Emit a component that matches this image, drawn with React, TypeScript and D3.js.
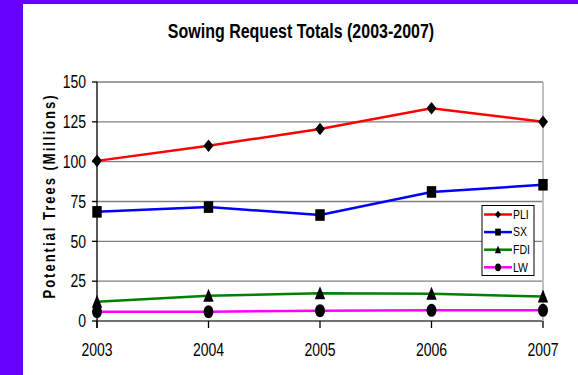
import React from "react";
import * as d3 from "d3";

const years = ["2003", "2004", "2005", "2006", "2007"];
const pli = [100.5, 110, 120.5, 133.5, 125];
const sx = [68.5, 71.5, 66.5, 81, 85.5];
const fdi = [12.1, 15.9, 17.4, 17.1, 15.3];
const lw = [5.8, 5.8, 6.5, 6.7, 6.7];
const yTicks = [0, 25, 50, 75, 100, 125, 150];
const seriesNames = ["PLI", "SX", "FDI", "LW"];
const seriesColors = ["#ff0000", "#0000ff", "#008000", "#ff00ff"];
const seriesMarkers = ["diamond", "square", "triangle", "circle"];

const W = 578, H = 375;
const FONT = "'Liberation Sans', Arial, sans-serif";

function Marker({ type, x, y, s }: { type: string; x: number; y: number; s: number }) {
  const w = 5 * s, h = 6.3 * s;
  if (type === "diamond") {
    return <path d={`M${x},${y - h} L${x + w},${y} L${x},${y + h} L${x - w},${y} Z`} fill="#000" />;
  }
  if (type === "square") {
    return <rect x={x - 4.7 * s} y={y - 5.8 * s} width={9.4 * s} height={11.6 * s} fill="#000" />;
  }
  if (type === "triangle") {
    return <path d={`M${x},${y - 7 * s} L${x + 5.2 * s},${y + 6 * s} L${x - 5.2 * s},${y + 6 * s} Z`} fill="#000" />;
  }
  return <ellipse cx={x} cy={y} rx={5 * s} ry={6.5 * s} fill="#000" />;
}

export default function App() {
  const x = d3.scalePoint<string>().domain(years).range([97, 543]);
  const y = d3.scaleLinear().domain([0, 150]).range([321, 82]);
  const data = [pli, sx, fdi, lw];
  const line = d3
    .line<number>()
    .x((_, i) => x(years[i]) as number)
    .y((d) => y(d));

  const legX = 482, legY = 205.5, legW = 52, legH = 70;

  return (
    <svg width={W} height={H} style={{ position: "absolute", left: 0, top: 0 }}>
      <rect x={0} y={0} width={W} height={H} fill="#6600ff" />
      <rect x={23} y={4} width={W - 23} height={H - 4} fill="#ffffff" />
      <text
        transform={`translate(301,38) scale(1,1.3)`}
        textAnchor="middle"
        fontFamily={FONT}
        fontWeight="bold"
        fontSize={16}
        fill="#000"
      >
        Sowing Request Totals (2003-2007)
      </text>
      {/* gridlines */}
      {yTicks.map((t) => (
        <line key={t} x1={97} x2={543} y1={y(t)} y2={y(t)} stroke={t === 0 ? "#404040" : "#808080"} strokeWidth={t === 0 ? 1.5 : 1.3} />
      ))}
      <line x1={543} x2={543} y1={y(150)} y2={y(0)} stroke="#c0c0c0" strokeWidth={2} />
      {/* y axis */}
      <line x1={97} x2={97} y1={y(150)} y2={328} stroke="#000" strokeWidth={1.3} />
      {yTicks.map((t) => (
        <line key={"yt" + t} x1={92} x2={97} y1={y(t)} y2={y(t)} stroke="#000" strokeWidth={1.3} />
      ))}
      {yTicks.map((t) => (
        <text
          key={"yl" + t}
          transform={`translate(86,${y(t) + 6.2}) scale(1,1.25)`}
          textAnchor="end"
          fontFamily={FONT}
          fontSize={14}
          fill="#000"
        >
          {t}
        </text>
      ))}
      {/* x ticks */}
      {years.map((yr) => (
        <line key={"xt" + yr} x1={x(yr)} x2={x(yr)} y1={y(0)} y2={328} stroke="#000" strokeWidth={1.3} />
      ))}
      {years.map((yr) => (
        <text
          key={"xl" + yr}
          transform={`translate(${x(yr)},356) scale(1,1.25)`}
          textAnchor="middle"
          fontFamily={FONT}
          fontSize={14}
          fill="#000"
        >
          {yr}
        </text>
      ))}
      <text
        transform={`translate(55,196) rotate(-90) scale(1,1.3)`}
        textAnchor="middle"
        fontFamily={FONT}
        fontWeight="bold"
        fontSize={13}
        letterSpacing={2}
        fill="#000"
      >
        Potential Trees (Millions)
      </text>
      {/* series */}
      {data.map((d, si) => (
        <path key={"l" + si} d={line(d) as string} fill="none" stroke={seriesColors[si]} strokeWidth={2.5} />
      ))}
      {data.map((d, si) =>
        d.map((v, i) => <Marker key={`m${si}-${i}`} type={seriesMarkers[si]} x={x(years[i]) as number} y={y(v)} s={1} />)
      )}
      {/* legend */}
      <rect x={legX} y={legY} width={legW} height={legH} fill="#fff" stroke="#000" strokeWidth={1} />
      {seriesNames.map((n, i) => {
        const ly = 214.5 + i * 17.6;
        return (
          <g key={"lg" + n}>
            <line x1={484} x2={512} y1={ly} y2={ly} stroke={seriesColors[i]} strokeWidth={2.5} />
            <Marker type={seriesMarkers[i]} x={498} y={ly} s={0.6} />
            <text
              transform={`translate(513,${ly + 4.3}) scale(1,1.25)`}
              fontFamily={FONT}
              fontSize={10.5}
              fill="#000"
            >
              {n}
            </text>
          </g>
        );
      })}
    </svg>
  );
}
